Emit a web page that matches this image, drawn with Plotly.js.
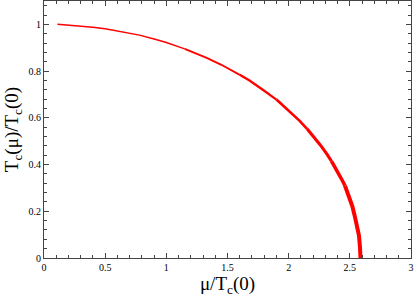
<!DOCTYPE html>
<html>
<head>
<meta charset="utf-8">
<script src="https://cdn.plot.ly/plotly-3.0.1.min.js"></script>
<style>html,body{margin:0;padding:0;background:#fff;}#chart{width:415px;height:297px;}</style>
</head>
<body>
<div id="chart"></div>
<script>
// Curve T_c(mu)/T_c(0) vs mu/T_c(0)
const muRatio = [0.11, 0.2, 0.3, 0.4, 0.5, 0.65, 0.78, 0.9, 1.0, 1.15, 1.33, 1.45, 1.6, 1.68, 1.8, 1.9, 2.0, 2.09, 2.15, 2.2, 2.26, 2.31, 2.35, 2.39, 2.43, 2.46, 2.5, 2.52, 2.54, 2.56, 2.575, 2.583, 2.587];
const tcRatio = [1.0, 0.997, 0.993, 0.988, 0.981, 0.968, 0.954, 0.937, 0.922, 0.895, 0.857, 0.827, 0.784, 0.76, 0.716, 0.678, 0.632, 0.587, 0.553, 0.523, 0.483, 0.447, 0.415, 0.38, 0.34, 0.31, 0.258, 0.222, 0.18, 0.14, 0.095, 0.045, 0.0];
// index ranges of curve pieces drawn with growing line width
const pieceBreaks = [0, 9, 12, 15, 18, 22, 25, 32];
const pieceWidths = [1.5, 1.9, 2.3, 2.7, 3.1, 3.5, 4];

const traces = [];
for (let i = 0; i < pieceWidths.length; i++) {
  const a = pieceBreaks[i], b = pieceBreaks[i + 1];
  traces.push({
    x: muRatio.slice(a, b + 1),
    y: tcRatio.slice(a, b + 1),
    type: 'scatter', mode: 'lines',
    line: {color: '#ff0000', width: pieceWidths[i], shape: 'linear'},
    hoverinfo: 'skip', showlegend: false
  });
}

const tickFont = {family: '"Liberation Serif", "Times New Roman", serif', size: 10, color: '#000'};
const titleFont = {family: '"Liberation Serif", "Times New Roman", serif', size: 19, color: '#000'};
const axisCommon = {
  showgrid: false, zeroline: false, showline: true, linecolor: '#444', linewidth: 1,
  mirror: 'allticks', ticks: 'inside', ticklen: 5, tickcolor: '#444', tickwidth: 1,
  tickfont: tickFont
};

const layout = {
  width: 415, height: 297,
  margin: {l: 44, r: 4, t: 1, b: 39},
  paper_bgcolor: '#fff', plot_bgcolor: '#fff',
  xaxis: Object.assign({}, axisCommon, {
    range: [0, 3], dtick: 0.5, tick0: 0,
    minor: {ticks: 'inside', dtick: 0.1, ticklen: 3, tickcolor: '#444', showgrid: false},
    title: {text: 'μ/T<sub>c</sub>(0)', font: titleFont, standoff: 2}
  }),
  yaxis: Object.assign({}, axisCommon, {
    range: [0, 1.1], dtick: 0.2, tick0: 0,
    minor: {ticks: 'inside', dtick: 0.04, ticklen: 3, tickcolor: '#444', showgrid: false},
    title: {text: 'T<sub>c</sub>(μ)/T<sub>c</sub>(0)', font: titleFont, standoff: 4}
  })
};

Plotly.newPlot('chart', traces, layout, {staticPlot: true, displayModeBar: false});
</script>
</body>
</html>
